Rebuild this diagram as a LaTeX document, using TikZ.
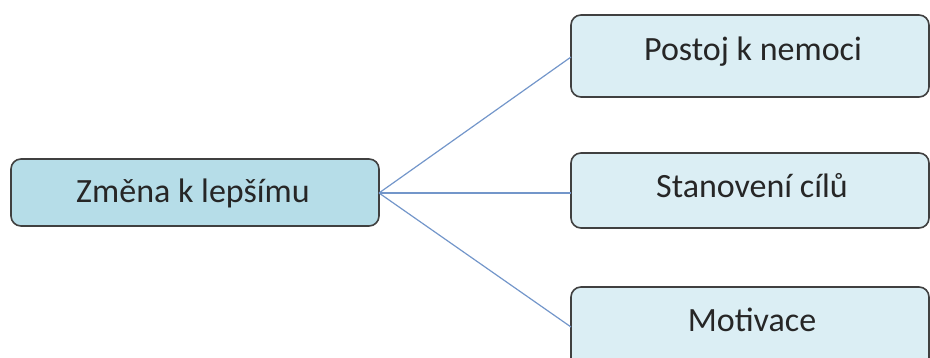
\documentclass[tikz,border=0pt]{standalone}
\usepackage{fontspec}
\setmainfont{Carlito}
\begin{document}
\begin{tikzpicture}[x=1pt,y=-1pt,
  box/.style={draw=black!75, line width=1.6pt, rounded corners=10pt, inner sep=0pt},
  rootbox/.style={box, fill=rootfill},
  leafbox/.style={box, fill=leaffill},
  label/.style={font=\fontsize{34}{40}\selectfont, text=black!85, inner sep=0pt},
  link/.style={draw=linkblue, line width=1.2pt}]
\definecolor{rootfill}{RGB}{182,221,232}
\definecolor{leaffill}{RGB}{219,238,244}
\definecolor{linkblue}{RGB}{115,150,202}
\useasboundingbox (0,0) rectangle (930,358);
\clip (0,0) rectangle (930,358);
% boxes
\path[rootbox] (11,159) rectangle (379,226);
\path[leafbox] (571,15) rectangle (929,97);
\path[leafbox] (571,153) rectangle (929,228);
\path[leafbox] (571,287) rectangle (929,380);
% anchor points for connectors
\coordinate (root) at (379,193);
\coordinate (t1) at (571,57);
\coordinate (t2) at (571,193);
\coordinate (t3) at (571,327);
\draw[link] (root) -- (t1);
\draw[link] (root) -- (t2);
\draw[link] (root) -- (t3);
% texts
\node[label] (lroot) at (193,193) {Změna k lepšímu};
\node[label] (l1) at (753,52) {Postoj k nemoci};
\node[label] (l2) at (752,186) {Stanovení cílů};
\node[label] (l3) at (752,320) {Motivace};
\end{tikzpicture}
\end{document}
